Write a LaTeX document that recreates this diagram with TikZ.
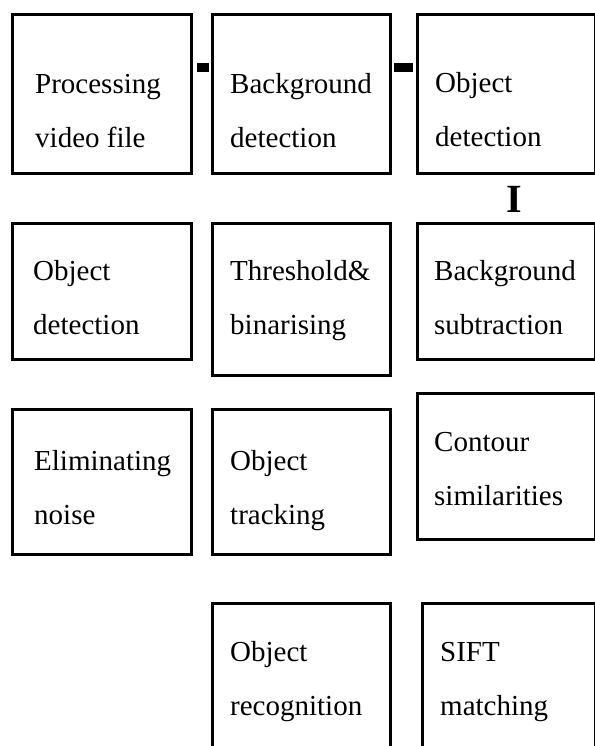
\documentclass[tikz,border=0pt]{standalone}
\usepackage{fontspec}
\setmainfont{Liberation Serif}
\begin{document}
\begin{tikzpicture}[
		x=1bp, y=-1bp,
		stage/.style={draw, line width=2.6bp, inner sep=0pt, anchor=north west, minimum width=#1},
		stage/.default=179.4bp,
		caption/.style={anchor=base west, align=left, inner sep=0pt, font=\fontsize{29bp}{54bp}\selectfont},
		stub/.style={fill=black}
	]
		\useasboundingbox (0,0) rectangle (595,746);
		\clip (0,0) rectangle (595,746);
		% first row
		\node[stage, minimum height=159.4bp] (proc) at (11,13) {};
		\node[stage=178.4bp, minimum height=159.4bp] (bgdet) at (211,13) {};
		\node[stage=177.7bp, minimum height=159.4bp] (objdet) at (416,13) {};
		\node[caption] (proc-t) at ([shift={(24,134)}]proc.north west) {Processing\\video file};
		\node[caption] (bgdet-t) at ([shift={(19,134)}]bgdet.north west) {Background\\detection};
		\node[caption] (objdet-t) at ([shift={(19,133)}]objdet.north west) {Object\\detection};
		\fill[stub] (197,63) rectangle (209,72);
		\fill[stub] (394,63) rectangle (413,72);
		\node[anchor=base, inner sep=0pt, font=\fontsize{40bp}{40bp}\selectfont\bfseries] (link) at (514,212) {I};
		% second row
		\node[stage, minimum height=136.4bp] (objdet2) at (11,222) {};
		\node[stage=178.4bp, minimum height=152.4bp] (thresh) at (211,222) {};
		\node[stage=177.7bp, minimum height=136.4bp] (bgsub) at (416,222) {};
		\node[caption] (objdet2-t) at ([shift={(22,112)}]objdet2.north west) {Object\\detection};
		\node[caption] (thresh-t) at ([shift={(19,112)}]thresh.north west) {Threshold\&\\binarising};
		\node[caption] (bgsub-t) at ([shift={(18,112)}]bgsub.north west) {Background\\subtraction};
		% third row
		\node[stage, minimum height=145.4bp] (noise) at (11,408) {};
		\node[stage=178.4bp, minimum height=145.4bp] (track) at (211,408) {};
		\node[stage=177.7bp, minimum height=146.4bp] (contour) at (416,392) {};
		\node[caption] (noise-t) at ([shift={(23,116)}]noise.north west) {Eliminating\\noise};
		\node[caption] (track-t) at ([shift={(19,116)}]track.north west) {Object\\tracking};
		\node[caption] (contour-t) at ([shift={(18,113)}]contour.north west) {Contour\\similarities};
		% last row, cut at the bottom
		\node[stage=178.4bp, minimum height=200bp] (recog) at (211,602) {};
		\node[stage=172.7bp, minimum height=200bp] (sift) at (421,602) {};
		\node[caption] (recog-t) at ([shift={(19,113)}]recog.north west) {Object\\recognition};
		\node[caption] (sift-t) at ([shift={(19,113)}]sift.north west) {SIFT\\matching};
	\end{tikzpicture}
\end{document}
